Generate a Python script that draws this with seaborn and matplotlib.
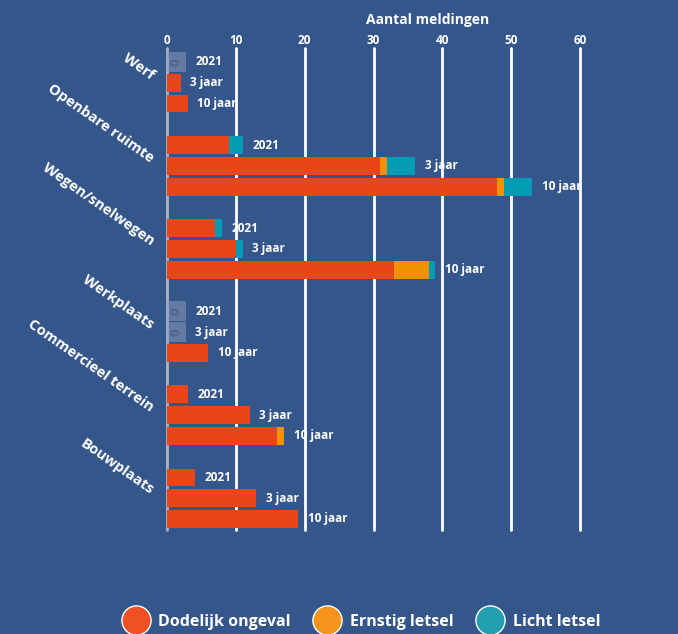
import numpy as np
import pandas as pd
import matplotlib
matplotlib.use("Agg")
import matplotlib.pyplot as plt
from matplotlib.lines import Line2D
import seaborn as sns

# ------------------------------------------
# Data
# ------------------------------------------
locations = ["Werf", "Openbare ruimte", "Wegen/snelwegen",
             "Werkplaats", "Commercieel terrein", "Bouwplaats"]
periods = ["2021", "3 jaar", "10 jaar"]

dodelijk = [0, 2, 3,
            9, 31, 48,
            7, 10, 33,
            0, 0, 6,
            3, 12, 16,
            4, 13, 19]
ernstig = [0, 0, 0,
           0, 1, 1,
           0, 0, 5,
           0, 0, 0,
           0, 0, 1,
           0, 0, 0]
licht = [0, 0, 0,
         2, 4, 4,
         1, 1, 1,
         0, 0, 0,
         0, 0, 0,
         0, 0, 0]

legend_labels = ["Dodelijk ongeval", "Ernstig letsel", "Licht letsel"]
xticks = [0, 10, 20, 30, 40, 50, 60]

# ------------------------------------------
# Styling
# ------------------------------------------
BG = "#34568A"
RED = "#E8461A"
ORANGE = "#F39200"
TEAL = "#009CB5"
LEG_COLORS = ["#F05023", "#F7941D", "#22A0B0"]

sns.set_theme(style="white")
plt.rcParams["font.family"] = ["Open Sans", "DejaVu Sans"]
plt.rcParams["font.weight"] = "bold"

df = pd.DataFrame({
    "location": np.repeat(locations, 3),
    "period": periods * len(locations),
    "dodelijk": dodelijk,
    "ernstig": ernstig,
    "licht": licht,
})
df["pos"] = [i * 4 + j for i in range(len(locations)) for j in range(3)]
df["c1"] = df["dodelijk"]
df["c2"] = df["c1"] + df["ernstig"]
df["c3"] = df["c2"] + df["licht"]
df["zero"] = np.where(df["c3"] == 0, 2.7, 0)

fig = plt.figure(figsize=(6.78, 6.34), dpi=100, facecolor=BG)
ax = fig.add_axes([167 / 678, 1 - 530 / 634, (580 - 167) / 678, (530 - 48) / 634])
ax.set_facecolor(BG)

# gridlines
for t in xticks:
    ax.axvline(t, color="#A9B4C6" if t == 0 else "white", lw=2, zorder=0,
               clip_on=False)

bar_kw = dict(y="pos", orient="h", native_scale=True, saturation=1,
              linewidth=0, ax=ax)
# placeholder boxes for zero values
sns.barplot(data=df, x="zero", color="#8A9BB8", alpha=0.55, width=0.95,
            zorder=1, **bar_kw)
# stacked bars (cumulative, drawn back to front)
sns.barplot(data=df, x="c3", color=TEAL, width=0.86, zorder=2, **bar_kw)
sns.barplot(data=df, x="c2", color=ORANGE, width=0.86, zorder=3, **bar_kw)
sns.barplot(data=df, x="c1", color=RED, width=0.86, zorder=4, **bar_kw)

for _, r in df.iterrows():
    end = max(r["c3"], r["zero"])
    ax.annotate(r["period"], (end, r["pos"]), xytext=(7, 0),
                textcoords="offset points", ha="left", va="center",
                color="white", fontsize=8.5, fontweight="bold", zorder=5)
    if r["c3"] == 0:
        ax.text(r["zero"] / 2, r["pos"], "0", rotation=90, ha="center",
                va="center", color="#4A6590", fontsize=9.5, fontweight="bold",
                zorder=5)

# category labels
for i, name in enumerate(locations):
    ax.text(-2.1, i * 4 + 0.7, name, rotation=-35, rotation_mode="anchor",
            ha="right", va="center", color="white", fontsize=10.5,
            fontweight="bold")

ax.set_xlim(0, 60)
ax.set_ylim(22.53, -0.67)
ax.set_xticks(xticks)
ax.set_yticks([])
ax.xaxis.tick_top()
ax.tick_params(axis="x", length=0, pad=0.5, labelcolor="white", labelsize=8.5)
for lab in ax.get_xticklabels():
    lab.set_fontweight("bold")
ax.set_xlabel("")
ax.set_ylabel("")
for s in ax.spines.values():
    s.set_visible(False)

fig.text(428 / 678, 1 - 20 / 634, "Aantal meldingen", ha="center",
         va="center", color="white", fontsize=10, fontweight="bold")

# legend
handles = [Line2D([], [], marker="o", ls="", markersize=21,
                  markerfacecolor=c, markeredgecolor="white",
                  markeredgewidth=1) for c in LEG_COLORS]
fig.legend(handles, legend_labels, loc="center", bbox_to_anchor=(360 / 678, 1 - 622 / 634),
           ncol=3, frameon=False, labelcolor="white", handletextpad=0.4,
           columnspacing=1.3, prop={"weight": "bold", "size": 11.5})

fig.savefig("out.png", dpi=100, facecolor=BG)
